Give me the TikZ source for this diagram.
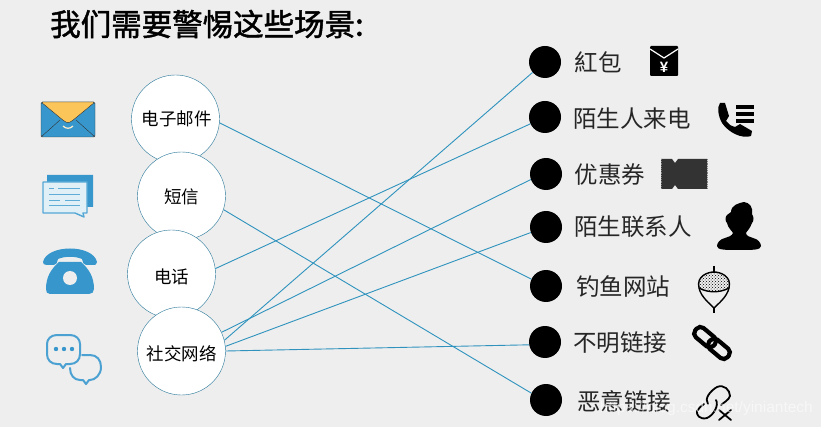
\documentclass[tikz,border=0pt]{standalone}
\usepackage{fontspec}
\usetikzlibrary{patterns}
\setmainfont{Liberation Sans}
\newfontfamily\cjk{Noto Sans CJK SC}
\newfontfamily\cjktitle[FakeBold=1.6]{Noto Sans CJK SC}
\definecolor{pagegray}{HTML}{EEEEEE}
\definecolor{linkblue}{HTML}{2F93BE}
\definecolor{iconblue}{HTML}{3797CC}
\definecolor{mailyellow}{HTML}{FCC55A}
\tikzset{
  source/.style={circle,draw=linkblue!80!black,fill=white,minimum size=88pt,inner sep=0pt,font=\cjk\fontsize{17.5}{20}\selectfont},
  target/.style={circle,fill=black,minimum size=32pt,inner sep=0pt},
  label/.style={inner sep=0pt,font=\cjk\fontsize{23.5}{26}\selectfont,text=black!85},
  link/.style={draw=linkblue,line width=0.9pt},
  iconline/.style={draw=iconblue!90!white,line width=2pt,line join=round,line cap=round}
}
\begin{document}
\begin{tikzpicture}[x=1pt,y=-1pt]
  \useasboundingbox (0,0) rectangle (821,427);
  \fill[pagegray] (0,0) rectangle (821,427);
  \node[inner sep=0pt,anchor=west,font=\cjktitle\fontsize{30.5}{34}\selectfont] (title) at (50,24) {我们需要警惕这些场景:};
  % targets on the right
  \node[target] (redpacket) at (545,62) {};
  \node[target] (callin) at (545,117) {};
  \node[target] (coupon) at (546,174) {};
  \node[target] (contact) at (546,227) {};
  \node[target] (phishing) at (546,286) {};
  \node[target] (unknown) at (545,342) {};
  \node[target] (malicious) at (546,400) {};
  \node[label] (redpackettext) at (598,62) {紅包};
  \node[label] (callintext) at (632,119) {陌生人来电};
  \node[label] (coupontext) at (610,175) {优惠券};
  \node[label] (contacttext) at (633,227) {陌生联系人};
  \node[label] (phishingtext) at (623,287) {钓鱼网站};
  \node[label] (unknowntext) at (620,343) {不明链接};
  \node[label] (malicioustext) at (624,401) {恶意链接};
  % sources, each one lies over the one before
  \node[source] (email) at (175.5,119) {\hspace{2pt}电子邮件};
  \node[source] (sms) at (181.5,196) {\raisebox{-1pt}[\height][\depth]{短信}};
  \node[source] (phone) at (171.5,274) {\raisebox{-3pt}[\height][\depth]{电话}};
  \node[source] (social) at (181.5,351) {\raisebox{-3pt}[\height][\depth]{社交网络}};
  \begin{scope}[link]
    \draw (email.-5) to (phishing.155);
    \draw (sms.-18) to (malicious.155);
    \draw (phone.7) to (callin.205);
    \draw (social.14) to (redpacket.220);
    \draw (social.25) to (coupon.200);
    \draw (social.6) to (contact.200);
    \draw (social.0) to (unknown.190);
  \end{scope}
  % mail icon
  \begin{scope}[shift={(41,102)}]
    \fill[iconblue,draw=black!80,rounded corners=1.5pt] (0,0) rectangle (54,35);
    \draw[black!80] (0,35) -- (19,18) (54,35) -- (35,18);
    \fill[mailyellow,draw=black!80,rounded corners=1.5pt] (0,0) -- (54,0) -- (31,19) -- (27,21) -- (23,19) -- cycle;
    \draw[white!70!mailyellow,line width=1.2pt] (22,24) .. controls (25,27) and (29,27) .. (32,24);
  \end{scope}
  % message icon
  \begin{scope}[shift={(42,175)}]
    \fill[iconblue] (5,0) -- (51,0) -- (51,32) -- (44,32) -- (44,10) -- (5,10) -- cycle;
    \filldraw[fill=iconblue!15!white,draw=iconblue!85!white,line width=1.4pt,line join=round] (1,7) -- (45,7) -- (45,38) -- (41,38) -- (42,42) -- (33,38) -- (1,38) -- cycle;
    \draw[iconblue!80!white,line width=0.9pt] (7,13) -- (12,13) (16,13) -- (38,13) (7,19) -- (38,19) (7,25) -- (18,25) (23,25) -- (38,25) (7,30) -- (38,30);
  \end{scope}
  % telephone icon
  \begin{scope}[shift={(43,247)}]
    \fill[iconblue] (0,15) .. controls (4,-3) and (50,-3) .. (54,15) .. controls (54,18) and (52,18) .. (50,18) -- (43,18) .. controls (40,18) and (40,15) .. (39,12) .. controls (32,9) and (22,9) .. (15,12) .. controls (14,15) and (14,18) .. (11,18) -- (4,18) .. controls (1,18) and (0,17) .. (0,15) -- cycle;
    \fill[iconblue] (16,15) -- (38,15) .. controls (46,22) and (51,30) .. (51,42) .. controls (51,45) and (49,47) .. (46,47) -- (7,47) .. controls (4,47) and (3,45) .. (3,42) .. controls (3,30) and (8,22) .. (16,15) -- cycle;
    \fill[pagegray] (27,31) circle (7);
  \end{scope}
  % chat icon
  \begin{scope}[shift={(47,335)}]
    \draw[iconline] (10,0) -- (23,0) .. controls (29,0) and (33,4) .. (33,9) -- (33,19) .. controls (33,25) and (29,29) .. (23,29) -- (19,29) -- (16,33) -- (13,29) -- (10,29) .. controls (4,29) and (0,25) .. (0,19) -- (0,9) .. controls (0,4) and (4,0) .. (10,0) -- cycle;
    \draw[iconline] (35,20) -- (43,20) .. controls (50,20) and (54,25) .. (54,32) .. controls (54,40) and (48,45) .. (43,45) -- (42,45) -- (39,49) -- (36,45) -- (33,45) .. controls (27,45) and (23,40) .. (23,33);
    \fill[iconblue] (9,14) circle (2.2) (17,14) circle (2.2) (25,14) circle (2.2);
  \end{scope}
  % red packet icon
  \begin{scope}[shift={(650,46)}]
    \fill[black,rounded corners=1pt] (0,0) rectangle (28,30);
    \draw[white,line width=1.2pt] (0,3) -- (14,12) -- (28,3);
    \node[inner sep=0pt,text=white,font=\bfseries\fontsize{15}{15}\selectfont] (yen) at (14,21) {¥};
  \end{scope}
  % handset icon
  \begin{scope}[shift={(717,103)}]
    \fill[black] (3,0) -- (8,0) -- (12,13) -- (9,18) .. controls (11,21) and (14,23) .. (18,24) -- (23,21) -- (35,28) -- (34,33) .. controls (25,36) and (12,30) .. (5,20) .. controls (1,13) and (0,4) .. (3,0) -- cycle;
    \draw[black,line width=3.2pt] (19,4) -- (37,4) (19,11) -- (37,11) (19,18) -- (37,18);
  \end{scope}
  % ticket icon
  \begin{scope}[shift={(661,159)}]
    \fill[black!80] (0,0) -- (11,0) -- (14,4) -- (17,0) -- (46,0) -- (46,30) -- (17,30) -- (14,26) -- (11,30) -- (0,30) -- cycle;
    \draw[gray,densely dotted,line width=0.8pt] (0,0) -- (0,30) (46,0) -- (46,30);
  \end{scope}
  % person icon
  \begin{scope}[shift={(717,202)}]
    \fill[black] (14,10) .. controls (14,3) and (22,1) .. (27,0) .. controls (33,1) and (36,5) .. (35,12) .. controls (37,15) and (37,19) .. (35,21) .. controls (33,27) and (29,30) .. (29,31) .. controls (29,34) and (33,35) .. (36,36) .. controls (41,37) and (44,41) .. (44,44) .. controls (44,48) and (36,48) .. (22,48) .. controls (8,48) and (0,48) .. (0,44) .. controls (0,41) and (3,37) .. (8,36) .. controls (11,35) and (15,34) .. (16,31) .. controls (15,29) and (11,26) .. (10,21) .. controls (8,19) and (8,15) .. (10,13) -- cycle;
  \end{scope}
  % float icon
  \begin{scope}[shift={(698,266)}]
    \draw[black,line width=1.4pt] (16,0) -- (16,7) (16,42) -- (16,47);
    \fill[pattern=crosshatch dots,pattern color=black] (1,22) .. controls (-2,10) and (10,6) .. (16,6) .. controls (22,6) and (34,10) .. (31,22) .. controls (22,27) and (10,27) .. (1,22) -- cycle;
    \draw[black,line width=1.4pt] (1,22) .. controls (-2,10) and (10,6) .. (16,6) .. controls (22,6) and (34,10) .. (31,22) .. controls (29,31) and (20,38) .. (16,42) .. controls (12,38) and (3,31) .. (1,22) -- cycle;
    \draw[black,line width=1.4pt] (1,22) .. controls (10,27) and (22,27) .. (31,22);
  \end{scope}
  % chain icon
  \begin{scope}[shift={(712,343)},rotate=-40]
    \draw[black,line width=4.2pt,rounded corners=5pt] (-21,-6) rectangle (3,6);
    \draw[black,line width=4.2pt,rounded corners=5pt] (-3,-6) rectangle (21,6);
  \end{scope}
  % broken chain icon
  \begin{scope}[shift={(696,385)}]
    \draw[black,line width=1.8pt,line cap=round] (12,19) .. controls (8,14) and (14,6) .. (21,2) .. controls (28,-1) and (34,5) .. (34,11) .. controls (33,15) and (27,18) .. (25,20);
    \draw[black,line width=1.8pt,line cap=round] (20,15) .. controls (23,20) and (18,30) .. (11,33) .. controls (4,35) and (0,30) .. (1,26) .. controls (3,23) and (5,21) .. (8,19);
    \draw[black,line width=1.8pt,line cap=round] (23,25) -- (35,35) (35,25) -- (23,35);
  \end{scope}
  \node[inner sep=0pt,anchor=east,text=white,opacity=0.55,font=\fontsize{15.5}{18}\selectfont] (watermark) at (813,408) {https://blog.csdn.net/yiniantech};
\end{tikzpicture}
\end{document}
